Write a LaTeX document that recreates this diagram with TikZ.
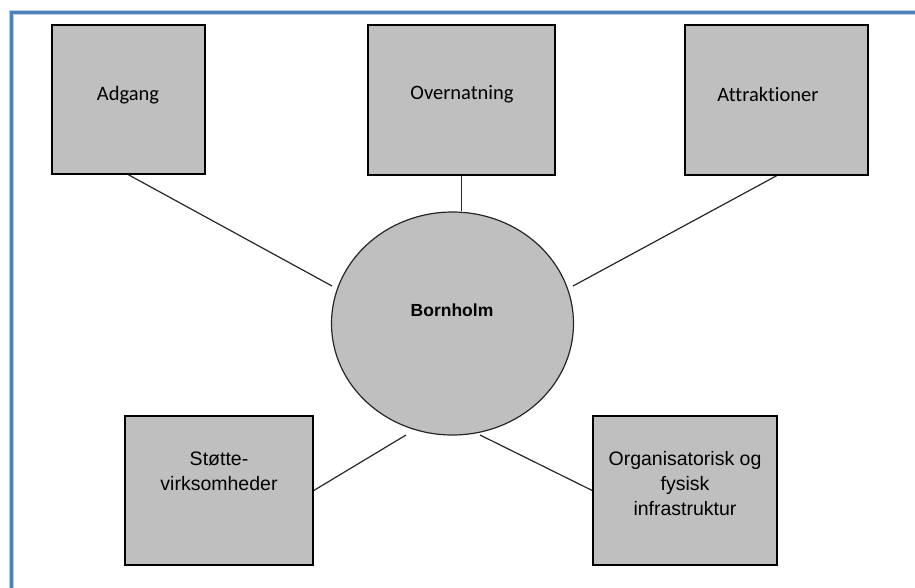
\documentclass[tikz,border=0pt]{standalone}
\usepackage{fontspec}
\usetikzlibrary{shapes.geometric}
\setmainfont{Liberation Sans}
\newfontfamily\calfont[Ligatures=NoCommon]{Carlito}
\definecolor{boxgray}{RGB}{191,191,191}
\definecolor{frameblue}{RGB}{79,129,189}
\definecolor{framehalo}{RGB}{184,204,228}
\tikzset{
  box/.style={draw=black, line width=1.6pt, fill=boxgray, rectangle, inner sep=0pt},
  lbl/.style={inner sep=0pt, align=center, font=\fontsize{19.5}{25}\selectfont},
  toplbl/.style={inner sep=0pt, font=\calfont\fontsize{20.5}{25}\selectfont},
  conn/.style={draw=black!85, line width=1.2pt},
}
\begin{document}
\begin{tikzpicture}[x=1pt, y=-1pt]
\useasboundingbox (0,0) rectangle (915,588);
% frame
\draw[framehalo, line width=5pt] (11.5,590) -- (11.5,12.5) -- (917,12.5);
\draw[frameblue, line width=3pt] (11.5,590) -- (11.5,12.5) -- (917,12.5);
% boxes
\node[box, minimum width=153pt, minimum height=149pt] (adgang) at (128.5,99.5) {};
\node[box, minimum width=187pt, minimum height=150pt] (overn) at (461.5,100) {};
\node[box, minimum width=183pt, minimum height=150pt] (attr) at (776.5,100) {};
\node[box, minimum width=188pt, minimum height=149pt] (stotte) at (219,490.5) {};
\node[box, minimum width=184pt, minimum height=149pt] (org) at (685,490.5) {};
% ellipse
\node[draw=black!85, line width=1.2pt, fill=boxgray, ellipse, minimum width=242pt, minimum height=223pt, inner sep=0pt] (born) at (452.5,323.5) {};
% labels
\node[toplbl] (tA) at (128,95) {Adgang};
\node[toplbl] (tO) at (462,94) {Overnatning};
\node[toplbl] (tT) at (768,94) {Attraktioner};
\node[lbl, font=\bfseries\fontsize{17.5}{21}\selectfont] (tB) at (452,310) {Bornholm};
\node[lbl] (tS) at (219,471.5) {Støtte-\\virksomheder};
\node[lbl] (tG) at (685,484) {Organisatorisk og\\fysisk\\infrastruktur};
% connector end points
\coordinate (eA) at (332,286);
\coordinate (eT) at (573,286);
\coordinate (eS) at (406,435);
\coordinate (eG) at (480,435);
% connectors
\draw[conn] (adgang.south) -- (eA);
\draw[conn] (overn.south) -- (overn.south |- born.north);
\draw[conn] (attr.south) -- (eT);
\draw[conn] (stotte.east) -- (eS);
\draw[conn] (org.west) -- (eG);
\end{tikzpicture}
\end{document}
